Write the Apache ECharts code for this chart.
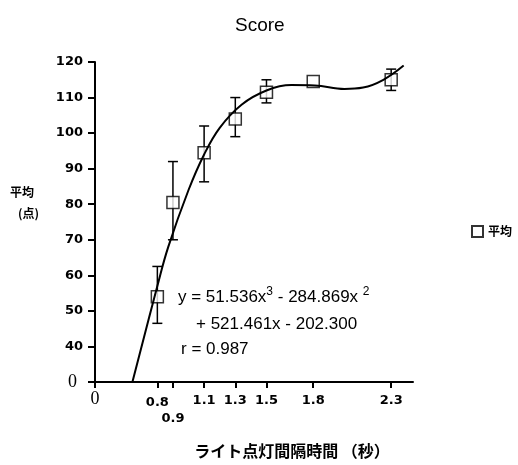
<!DOCTYPE html>
<html lang="ja">
<head>
    <meta charset="UTF-8">
    <title>Score</title>
    <script src="https://cdn.jsdelivr.net/npm/echarts@6/dist/echarts.min.js"></script>
    <style>
        html, body { margin: 0; padding: 0; background: #fff; }
        #main { width: 518px; height: 465px; }
    </style>
</head>
<body>
<div id="main"></div>
<script>
    // 平均値と誤差範囲
    var meanX = [0.8, 0.9, 1.1, 1.3, 1.5, 1.8, 2.3];
    var meanY = [54, 80.5, 94.5, 104, 111.5, 114.5, 115];
    var errLow = [46.5, 70, 86.3, 99, 108.5, null, 112];
    var errHigh = [62.5, 92, 102, 110, 115, null, 118];

    // 近似曲線（図から読み取った点）
    var fitX = [0.64, 0.8, 0.87, 1.0, 1.1, 1.2, 1.34, 1.5, 1.66, 1.81, 2.0, 2.12, 2.25, 2.38];
    var fitY = [30, 57, 68, 84, 94, 101.5, 108, 112, 113.5, 113.4, 112.4, 112.8, 115, 119];

    // 軸目盛
    var xTicks = [0.4, 0.8, 0.9, 1.1, 1.3, 1.5, 1.8, 2.3];
    var xTickLabels = ['0', '0.8', '0.9', '1.1', '1.3', '1.5', '1.8', '2.3'];
    var yTickLabels = ['0', '40', '50', '60', '70', '80', '90', '100', '110', '120'];

    var labelFont = '"Liberation Sans", Arial, sans-serif';
    var tickFont = '"DejaVu Sans", sans-serif';
    var jpFont = '"Noto Sans CJK JP", sans-serif';

    var myChart = echarts.init(document.getElementById('main'));

    var option = {
        animation: false,
        title: {
            text: 'Score',
            left: 230,
            top: 11,
            textStyle: {fontFamily: labelFont, fontSize: 19, fontWeight: 'normal', color: '#000'}
        },
        legend: {
            data: ['平均'],
            left: 466,
            top: 220,
            itemWidth: 11,
            itemHeight: 11,
            itemGap: 5,
            icon: 'rect',
            textStyle: {fontFamily: jpFont, fontSize: 12, fontWeight: 'bold', color: '#000'}
        },
        grid: {left: 95, right: 105, top: 62, bottom: 83, containLabel: false},
        xAxis: {
            type: 'value',
            min: 0.4,
            max: 2.44,
            splitLine: {show: false},
            axisLine: {onZero: false, lineStyle: {color: '#000', width: 2}},
            axisTick: {
                customValues: xTicks,
                length: 6,
                inside: false,
                lineStyle: {color: '#000', width: 2}
            },
            axisLabel: {
                customValues: xTicks,
                margin: 10,
                lineHeight: 18,
                color: '#000',
                fontFamily: tickFont,
                fontSize: 13,
                fontWeight: 'bold',
                formatter: function (v) {
                    var i = xTicks.findIndex(function (t) { return Math.abs(t - v) < 1e-6; });
                    if (i < 0) return '';
                    if (i === 0) return '{z|0}';
                    if (xTickLabels[i] === '0.9') return '\n' + xTickLabels[i];
                    if (xTickLabels[i] === '0.8') return '{m|' + xTickLabels[i] + '}';
                    return xTickLabels[i];
                },
                rich: {
                    z: {fontFamily: '"Liberation Serif", serif', fontSize: 18, fontWeight: 'normal', color: '#000', padding: [0, 0, 4, 0]},
                    m: {fontFamily: tickFont, fontSize: 13, fontWeight: 'bold', color: '#000', padding: [4, 0, 0, 0]}
                }
            }
        },
        yAxis: {
            type: 'value',
            min: 30,
            max: 120,
            interval: 10,
            splitLine: {show: false},
            axisLine: {lineStyle: {color: '#000', width: 2}},
            axisTick: {length: 7, lineStyle: {color: '#000', width: 2}},
            axisLabel: {
                margin: 12,
                color: '#000',
                fontFamily: tickFont,
                fontSize: 13,
                fontWeight: 'bold',
                formatter: function (v) {
                    var i = Math.round((v - 30) / 10);
                    if (i === 0) return '{z|' + yTickLabels[0] + '}';
                    return yTickLabels[i] || '';
                },
                rich: {
                    z: {fontFamily: '"Liberation Serif", serif', fontSize: 18, fontWeight: 'normal', color: '#000', padding: [0, 6, 0, 0]}
                }
            }
        },
        graphic: [
            {
                type: 'text', left: 10, top: 186,
                style: {text: '平均', fontFamily: jpFont, fontSize: 12, fontWeight: 'bold', fill: '#000'}
            },
            {
                type: 'text', left: 18, top: 207,
                style: {text: '(点)', fontFamily: jpFont, fontSize: 12, fontWeight: 'bold', fill: '#000'}
            },
            {
                type: 'text', x: 292, y: 451, style: {
                    text: 'ライト点灯間隔時間 （秒）', align: 'center', verticalAlign: 'middle',
                    fontFamily: jpFont, fontSize: 16, fontWeight: 'bold', fill: '#000'
                }
            },
            {
                type: 'text', left: 178, top: 286, z: 10, style: {
                    text: 'y = 51.536x{s|3} - 284.869x {s|2}',
                    fontFamily: labelFont, fontSize: 17, fill: '#000',
                    rich: {s: {fontFamily: labelFont, fontSize: 12, fill: '#000', padding: [0, 0, 10, 0]}}
                }
            },
            {
                type: 'text', left: 196, top: 316, z: 10,
                style: {text: '+ 521.461x - 202.300', fontFamily: labelFont, fontSize: 17, fill: '#000'}
            },
            {
                type: 'text', left: 181, top: 341, z: 10,
                style: {text: 'r = 0.987', fontFamily: labelFont, fontSize: 17, fill: '#000'}
            }
        ],
        series: [
            {
                name: 'error',
                type: 'custom',
                z: 1,
                silent: true,
                data: meanX.map(function (x, i) { return [x, errLow[i], errHigh[i]]; }),
                encode: {x: 0, y: [1, 2]},
                renderItem: function (params, api) {
                    if (api.value(1) == null || isNaN(api.value(1))) return;
                    var lo = api.coord([api.value(0), api.value(1)]);
                    var hi = api.coord([api.value(0), api.value(2)]);
                    var w = 5;
                    var st = {stroke: '#000', lineWidth: 1.5};
                    return {
                        type: 'group',
                        children: [
                            {type: 'line', shape: {x1: lo[0], y1: lo[1], x2: hi[0], y2: hi[1]}, style: st},
                            {type: 'line', shape: {x1: lo[0] - w, y1: lo[1], x2: lo[0] + w, y2: lo[1]}, style: st},
                            {type: 'line', shape: {x1: hi[0] - w, y1: hi[1], x2: hi[0] + w, y2: hi[1]}, style: st}
                        ]
                    };
                }
            },
            {
                name: '平均',
                type: 'scatter',
                z: 2,
                symbol: 'rect',
                symbolSize: 12,
                itemStyle: {color: '#fff', borderColor: '#000', borderWidth: 1.5},
                data: meanX.map(function (x, i) { return [x, meanY[i]]; })
            },
            {
                name: 'fit',
                type: 'line',
                z: 3,
                smooth: 0.4,
                showSymbol: false,
                symbol: 'none',
                lineStyle: {color: '#000', width: 2},
                data: fitX.map(function (x, i) { return [x, fitY[i]]; })
            }
        ]
    };

    myChart.setOption(option);
</script>
</body>
</html>
